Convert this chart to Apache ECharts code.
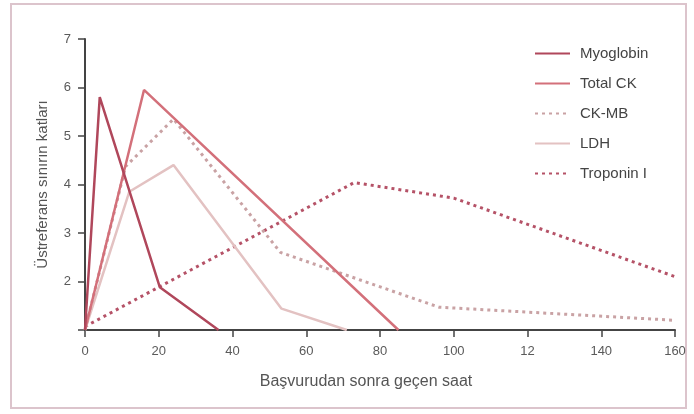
<!DOCTYPE html>
<html>
<head>
<meta charset="utf-8">
<script src="https://cdn.jsdelivr.net/npm/echarts@6/dist/echarts.min.js"></script>
<style>html,body{margin:0;padding:0;background:#fff;}#c{width:694px;height:414px;}</style>
</head>
<body>
<div id="c"></div>
<script>
const xTickLabels = ['0','20','40','60','80','100','12','140','160'];
const yTicks = [1,2,3,4,5,6,7];
const seriesNames = ['Myoglobin','Total CK','CK-MB','LDH','Troponin I'];
const myoglobin = [[0,1],[4,5.8],[20.3,1.88],[36.2,1]];
const totalCK = [[0,1],[16,5.95],[85,1]];
const ckMB = [[0,1],[11,4.37],[24,5.35],[53,2.6],[96,1.47],[160,1.2]];
const ldh = [[0,1],[12,3.85],[24,4.4],[53.3,1.44],[71,1]];
const troponinI = [[0,1.07],[73,4.04],[100,3.72],[160,2.1]];

const colors = ['#b0475b','#d3707a','#c9a2a4','#e3c2c2','#b55267'];
const datasets = [myoglobin,totalCK,ckMB,ldh,troponinI];
const dotted = [false,false,true,false,true];

const chart = echarts.init(document.getElementById('c'));
chart.setOption({
  animation:false,
  graphic:[{type:'rect',shape:{x:11,y:4,width:675,height:404},style:{fill:'none',stroke:'#dcc4cc',lineWidth:2},z:-1}],
  grid:{left:85,right:19,top:39,bottom:84},
  legend:{
    orient:'vertical',left:529,top:41,itemWidth:35,itemHeight:14,itemGap:15,
    itemStyle:{opacity:0},
    textStyle:{fontFamily:'Liberation Sans',fontSize:15,color:'#444',padding:[0,0,0,5]},
    data:seriesNames
  },
  xAxis:{
    type:'value',min:0,max:160,interval:20,
    name:'Başvurudan sonra geçen saat',nameLocation:'middle',nameGap:44,
    nameTextStyle:{fontFamily:'Liberation Sans',fontSize:16,color:'#555',padding:[0,28,0,0]},
    axisLine:{lineStyle:{color:'#444',width:2}},
    axisTick:{show:true,length:7,lineStyle:{color:'#444',width:1.5}},
    axisLabel:{fontFamily:'Liberation Sans',fontSize:13,color:'#5a5a5a',margin:15,
      formatter:function(v){return xTickLabels[Math.round(v/20)];}},
    splitLine:{show:false}
  },
  yAxis:{
    type:'value',min:yTicks[0],max:yTicks[yTicks.length-1],interval:1,
    name:'Üstreferans sınırın katları',nameLocation:'middle',nameGap:35,
    nameTextStyle:{fontFamily:'Liberation Sans',fontSize:15,color:'#555'},
    axisLine:{show:true,lineStyle:{color:'#444',width:2}},
    axisTick:{show:true,length:7,lineStyle:{color:'#444',width:1.5}},
    axisLabel:{fontFamily:'Liberation Sans',fontSize:13,color:'#5a5a5a',margin:14,
      formatter:function(v){return v===1?'':String(v);}},
    splitLine:{show:false}
  },
  series: seriesNames.map(function(n,i){
    return {
      name:n,type:'line',symbol:'none',data:datasets[i],
      itemStyle:{color:colors[i]},
      lineStyle:{color:colors[i],width:dotted[i]?3:2.5,type:dotted[i]?[3,4]:'solid'},
      z: 5-i
    };
  })
});
</script>
</body>
</html>
